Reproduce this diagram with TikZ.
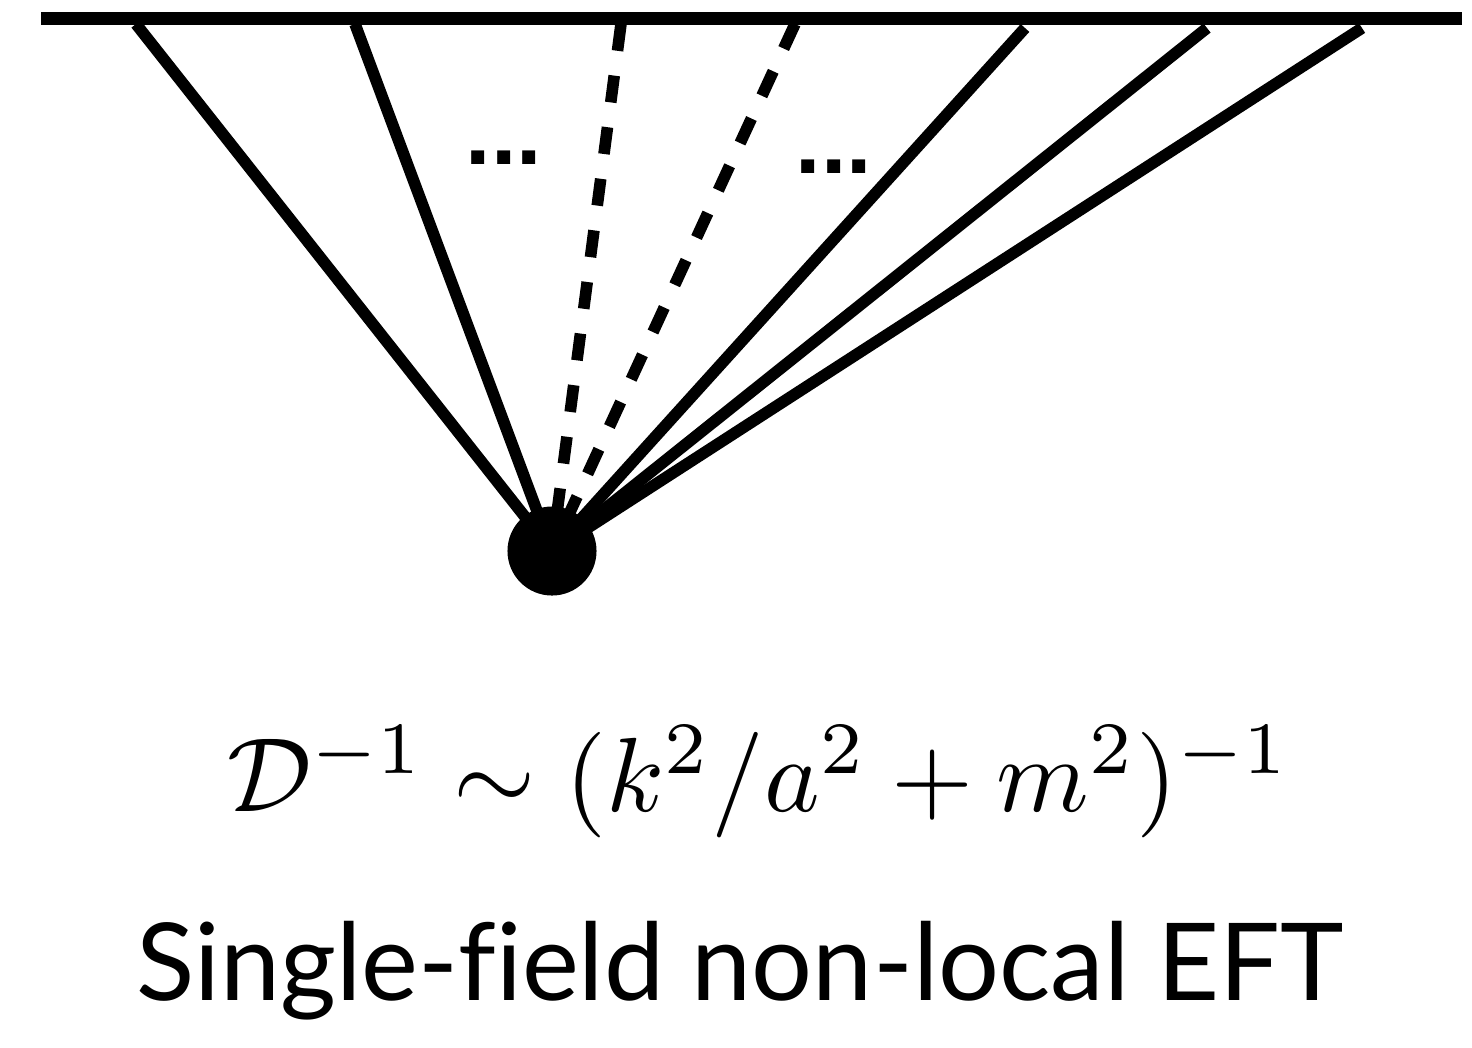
\documentclass[tikz,border=0pt]{standalone}
\usepackage{fontspec}
\setsansfont{Lato}[Ligatures=NoCommon]
\newfontfamily\dotfont{Liberation Sans}
\usepackage{tikz}

\begin{document}
\begin{tikzpicture}[
    x=0.01cm, y=-0.01cm,
    leg/.style={line width=3.3pt},
    ghost/.style={leg, dash pattern=on 0.27cm off 0.25cm},
    vtx/.style={circle, fill=black, minimum size=0.89cm, inner sep=0pt},
    ellip/.style={font=\dotfont\bfseries\fontsize{26}{26}\selectfont, inner sep=0pt},
    caption/.style={font=\sffamily\fontsize{30.6}{34}\selectfont, inner sep=0pt}
  ]
  \useasboundingbox (0,0) rectangle (1472,1047);
  % boundary
  \coordinate (bl) at (41,18.5);
  \coordinate (br) at (1462,18.5);
  \draw[line width=13*0.01cm] (bl) -- (br);

  \coordinate (v) at (552,551);
  \coordinate (p1) at (136,24);
  \coordinate (p2) at (355,24);
  \coordinate (p3) at (621,24);
  \coordinate (p4) at (795,24);
  \coordinate (p5) at (1025,28);
  \coordinate (p6) at (1207,28);
  \coordinate (p7) at (1362,28);

  \draw[leg] (v) -- (p1);
  \draw[leg] (v) -- (p2);
  \draw[ghost] (p3) -- (v);
  \draw[ghost] (p4) -- (v);
  \draw[leg] (v) -- (p5);
  \draw[leg] (v) -- (p6);
  \draw[leg] (v) -- (p7);
  \node[vtx] (dot) at (v) {};

  \node[ellip] (dl) at (504,158) {...};
  \node[ellip] (dr) at (834,167) {...};

  \node[scale=3.0, inner sep=0pt] (prop) at (759,782)
    {$\mathcal{D}^{-1} \sim (k^2/a^2+m^2)^{-1}$};
  \node[caption, anchor=base] (name) at (740,1000) {Single-field non-local EFT};
\end{tikzpicture}
\end{document}
